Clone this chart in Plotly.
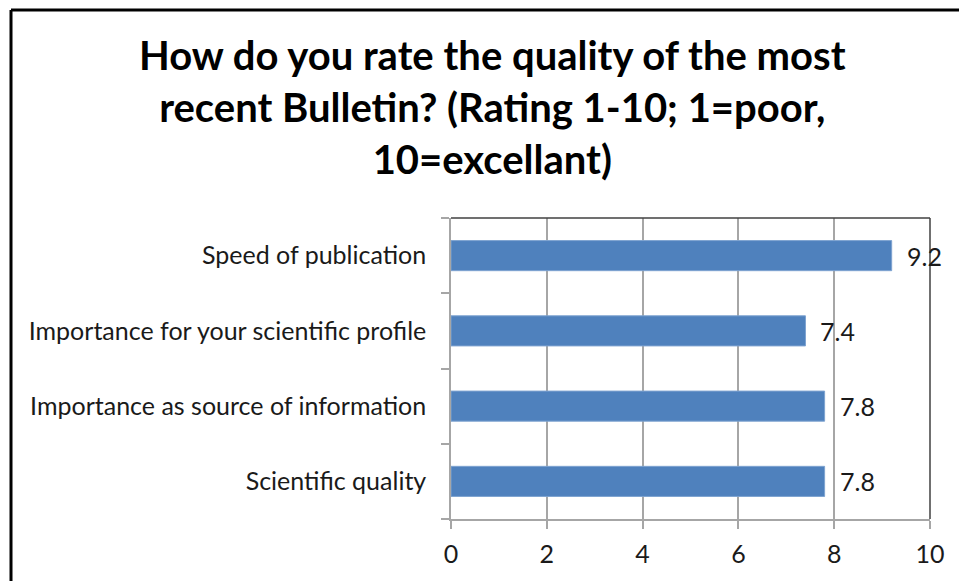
"""Bar chart: rating of the most recent Bulletin."""

import plotly.graph_objects as go

categories = [
    "Scientific quality",
    "Importance as source of information",
    "Importance for your scientific profile",
    "Speed of publication",
]
ratings = [7.8, 7.8, 7.4, 9.2]
x_ticks = [0, 2, 4, 6, 8, 10]

TITLE = ("How do you rate the quality of the most<br>"
         "recent Bulletin? (Rating 1-10; 1=poor,<br>"
         "10=excellant)")

FONT = "Lato"
W, H = 959, 581
L, R, T, B = 451, 29, 218, 62


def px_x(p):
    return (p - L) / (W - L - R)


def px_y(p):
    return 1 + (T - p) / (H - T - B)


fig = go.Figure(go.Bar(
    x=ratings, y=categories, orientation="h",
    width=0.4,
    marker=dict(color="#4F81BD", line=dict(color="#7EA3D0", width=1)),
    hoverinfo="skip",
))

for cat, val in zip(categories, ratings):
    fig.add_annotation(
        x=val, y=cat, text=f"{val:.1f}", showarrow=False,
        xanchor="left", xshift=13,
        font=dict(family=FONT, size=25, color="#1a1a1a"),
    )

# title
fig.add_annotation(
    xref="paper", yref="paper", x=px_x(492), y=px_y(29),
    xanchor="center", yanchor="top", showarrow=False, text=TITLE,
    font=dict(family=FONT, size=40, color="black", weight="bold"),
)

# outer chart frame (only top and left edges are visible in the crop)
fig.add_shape(type="line", xref="paper", yref="paper",
              x0=px_x(11), x1=px_x(980), y0=px_y(10), y1=px_y(10),
              line=dict(color="black", width=3))
fig.add_shape(type="line", xref="paper", yref="paper",
              x0=px_x(11), x1=px_x(11), y0=px_y(10), y1=px_y(600),
              line=dict(color="black", width=3))
# plot-area top / right border
fig.add_shape(type="line", xref="paper", yref="paper",
              x0=0, x1=1, y0=1, y1=1, line=dict(color="#404040", width=1.5))
fig.add_shape(type="line", xref="paper", yref="paper",
              x0=1, x1=1, y0=0, y1=1, line=dict(color="#404040", width=1.5))

fig.update_layout(
    width=W, height=H,
    margin=dict(l=L, r=R, t=T, b=B, autoexpand=False),
    paper_bgcolor="white", plot_bgcolor="white",
    showlegend=False,
    font=dict(family=FONT, size=25, color="#1a1a1a"),
)
fig.update_xaxes(
    range=[0, 10], tickvals=x_ticks, showgrid=True, gridcolor="#A6A6A6",
    gridwidth=1.5, showline=True, linecolor="#A6A6A6", linewidth=1.5,
    ticks="outside", ticklen=8, tickcolor="#A6A6A6", tickwidth=1.5,
    zeroline=False, ticklabelstandoff=4, automargin=False,
    tickfont=dict(family=FONT, size=25, color="#1a1a1a"),
)
fig.update_yaxes(
    categoryorder="array", categoryarray=categories,
    showline=True, linecolor="#A6A6A6", linewidth=1.5,
    ticks="outside", ticklen=8, tickcolor="#A6A6A6", tickwidth=1.5,
    tickson="boundaries", showgrid=False, ticklabelstandoff=18,
    automargin=False,
    tickfont=dict(family=FONT, size=25, color="#1a1a1a"),
)

fig.write_html(
    "out.html",
    config={"displayModeBar": False},
    post_script="document.body.style.margin='0';",
)
